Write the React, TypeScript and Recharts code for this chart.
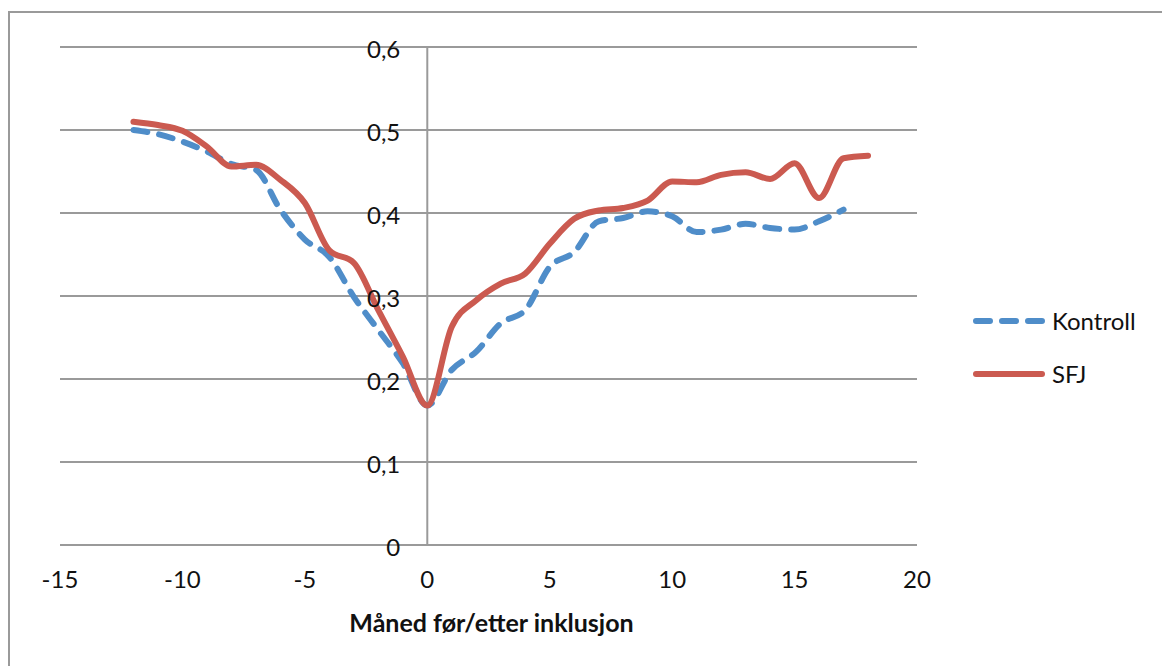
import React from "react";
import {
  LineChart,
  Line,
  XAxis,
  YAxis,
  CartesianGrid,
  ReferenceLine,
  ReferenceDot,
} from "recharts";

// måned før/etter inklusjon
const months = [
  -12, -11, -10, -9, -8, -7, -6, -5, -4, -3, -2, -1, 0, 1, 2, 3, 4, 5, 6, 7, 8, 9, 10, 11, 12, 13,
  14, 15, 16, 17, 18,
];

const kontroll = [
  0.5, 0.495, 0.486, 0.474, 0.459, 0.452, 0.404, 0.368, 0.347, 0.299, 0.259, 0.219, 0.168, 0.211,
  0.233, 0.267, 0.283, 0.335, 0.353, 0.39, 0.394, 0.402, 0.396, 0.377, 0.38, 0.387, 0.382, 0.38,
  0.39, 0.404, null,
];

const sfj = [
  0.51, 0.506, 0.499, 0.48, 0.456, 0.458, 0.44, 0.412, 0.355, 0.34, 0.283, 0.227, 0.168, 0.263,
  0.295, 0.315, 0.327, 0.363, 0.393, 0.403, 0.406, 0.415, 0.438, 0.437, 0.446, 0.449, 0.441, 0.46,
  0.418, 0.466, 0.469,
];

const xTicks = [-15, -10, -5, 0, 5, 10, 15, 20];
const yTicks = [0, 0.1, 0.2, 0.3, 0.4, 0.5, 0.6];
const yTickLabels = ["0", "0,1", "0,2", "0,3", "0,4", "0,5", "0,6"];

const BLUE = "#4F8DC9";
const RED = "#CB5A50";
const GRID = "#9a9a9a";
const FONT = "Lato, 'Open Sans', sans-serif";

const data = months.map((m, i) => ({ m, kontroll: kontroll[i], sfj: sfj[i] }));

// legenden står utenfor plottet, til høyre
function LegendBox() {
  const items = [
    { name: "Kontroll", color: BLUE, dash: "14 12" },
    { name: "SFJ", color: RED, dash: undefined },
  ];
  return (
    <div
      style={{
        position: "absolute",
        left: 972,
        top: 294,
        fontFamily: FONT,
        fontSize: 24,
        color: "#111",
      }}
    >
      {items.map((it) => (
        <div key={it.name} style={{ display: "flex", alignItems: "center", height: 53 }}>
          <svg width={76} height={12}>
            <line
              x1={4}
              y1={6}
              x2={70}
              y2={6}
              stroke={it.color}
              strokeWidth={6}
              strokeLinecap="round"
              strokeDasharray={it.dash}
            />
          </svg>
          <span style={{ marginLeft: 4 }}>{it.name}</span>
        </div>
      ))}
    </div>
  );
}

export default function App() {
  return (
    <div style={{ position: "absolute", left: 0, top: 0, width: 1162, height: 666, background: "#fff" }}>
      <div
        style={{
          position: "absolute",
          left: 8,
          top: 11,
          width: 1160,
          height: 660,
          borderTop: `2px solid ${GRID}`,
          borderLeft: `2px solid ${GRID}`,
        }}
      />
      <LineChart
        width={1162}
        height={666}
        data={data}
        margin={{ top: 47, left: 60, right: 245, bottom: 31 }}
        style={{ position: "absolute", left: 0, top: 0 }}
      >
        <CartesianGrid vertical={false} stroke={GRID} strokeWidth={2} />
        <XAxis
          dataKey="m"
          type="number"
          domain={[-15, 20]}
          ticks={xTicks}
          axisLine={false}
          tickLine={false}
          tickSize={0}
          tickMargin={26}
          height={90}
          tick={{ fontSize: 24, fill: "#111", fontFamily: FONT }}
          label={(props: any) => {
            const vb = props.viewBox;
            return (
              <text
                x={vb.x + vb.width / 2 + 3}
                y={vb.y + 77}
                textAnchor="middle"
                dominantBaseline="central"
                fontFamily={FONT}
                fontWeight="bold"
                fontSize={25}
                fill="#111"
              >
                Måned før/etter inklusjon
              </text>
            );
          }}
        />
        <YAxis hide type="number" domain={[0, 0.6]} ticks={yTicks} />
        <ReferenceLine x={0} stroke={GRID} strokeWidth={2} />
        {yTicks.map((v, i) => (
          <ReferenceDot
            key={v}
            x={0}
            y={v}
            r={0}
            fill="none"
            stroke="none"
            label={{
              value: yTickLabels[i],
              position: "left",
              offset: 27,
              fontSize: 24,
              fill: "#111",
              fontFamily: FONT,
              dy: 2,
            }}
          />
        ))}
        <Line
          type="monotone"
          dataKey="kontroll"
          stroke={BLUE}
          strokeWidth={6}
          strokeDasharray="14 12"
          strokeLinecap="round"
          dot={false}
          activeDot={false}
          isAnimationActive={false}
        />
        <Line
          type="monotone"
          dataKey="sfj"
          stroke={RED}
          strokeWidth={6}
          strokeLinecap="round"
          dot={false}
          activeDot={false}
          isAnimationActive={false}
        />
      </LineChart>
      <LegendBox />
    </div>
  );
}
